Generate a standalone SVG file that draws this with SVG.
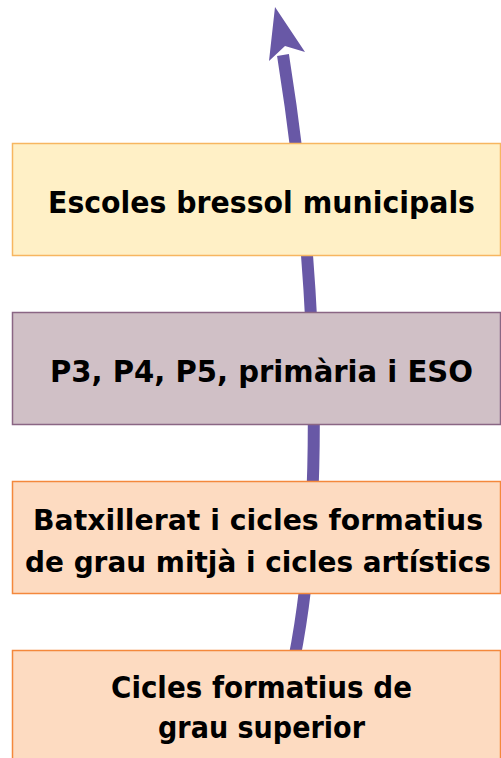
<svg xmlns="http://www.w3.org/2000/svg" width="501" height="758" viewBox="0 0 501 758">
<style>
.t{font-family:"DejaVu Sans","Liberation Sans",sans-serif;font-weight:bold;font-size:30px;fill:#000;text-anchor:middle}
.s{font-size:28px}
.b1{fill:#fff0c6;stroke:#f7b660;stroke-width:1.5}
.b2{fill:#d0c0c6;stroke:#8a6684;stroke-width:1.5}
.b3{fill:#fddbc1;stroke:#f4883c;stroke-width:1.5}
</style>
<g id="connectors">
<path d="M294 660 C322 520 322 300 283 55" fill="none" stroke="#6858a6" stroke-width="12"/>
<polygon points="275,7 305,52 285,46 269,61" fill="#6858a6"/>
</g>
<g id="n1"><rect class="b1" x="12.5" y="143.5" width="488" height="112"/>
<text class="t" x="261.5" y="213" textLength="427" lengthAdjust="spacingAndGlyphs">Escoles bressol municipals</text></g>
<g id="n2"><rect class="b2" x="12.5" y="312.5" width="488" height="112"/>
<text class="t" x="261.5" y="382" textLength="423" lengthAdjust="spacingAndGlyphs">P3, P4, P5, primària i ESO</text></g>
<g id="n3"><rect class="b3" x="12.5" y="481.5" width="488" height="112"/>
<text class="t s" x="258" y="530" textLength="450" lengthAdjust="spacingAndGlyphs">Batxillerat i cicles formatius</text>
<text class="t s" x="258" y="572" textLength="466" lengthAdjust="spacingAndGlyphs">de grau mitjà i cicles artístics</text></g>
<g id="n4"><rect class="b3" x="12.5" y="650.5" width="488" height="120"/>
<text class="t" x="261.5" y="698" textLength="301" lengthAdjust="spacingAndGlyphs">Cicles formatius de</text>
<text class="t" x="261.5" y="738" textLength="207" lengthAdjust="spacingAndGlyphs">grau superior</text></g>
</svg>
